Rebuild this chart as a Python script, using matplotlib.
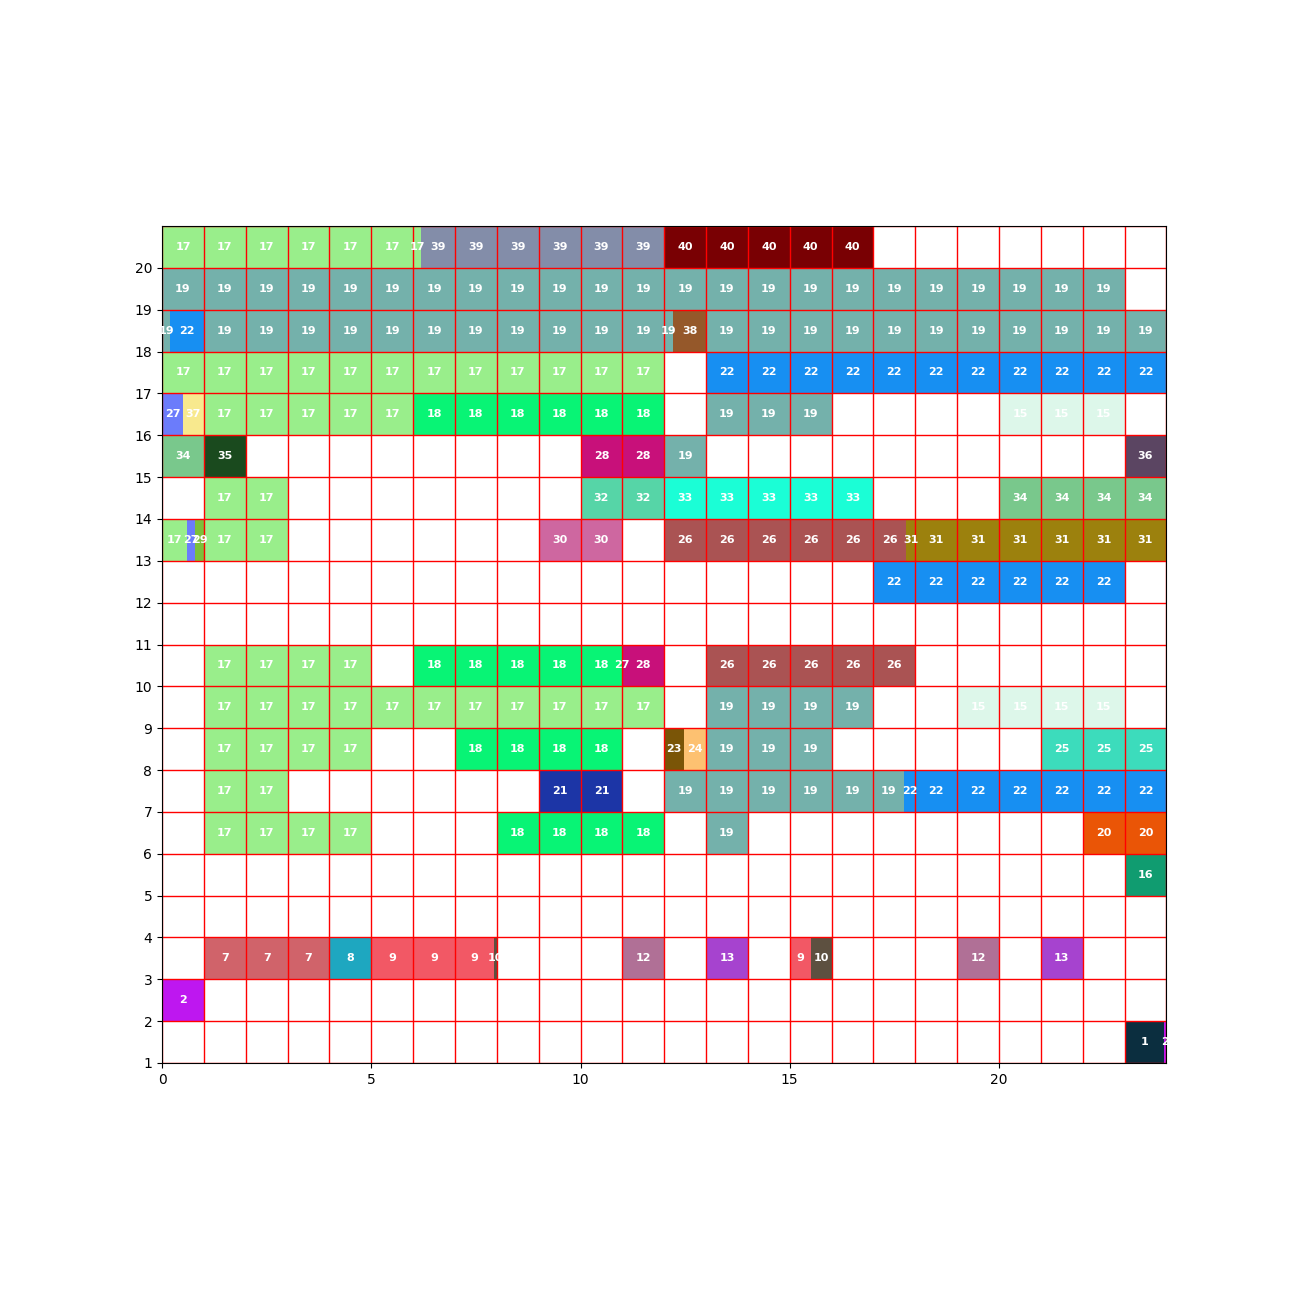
import numpy as np
import matplotlib.pyplot as plt
from matplotlib.patches import Rectangle

# runs of labelled cells per row: (x start, x end, label)
row_20 = [(0, 6.19, 17), (6.19, 12, 39), (12, 17, 40)]
row_19 = [(0, 23, 19)]
row_18 = [(0, 0.19, 19), (0.19, 1, 22), (1, 12.22, 19), (12.22, 13, 38), (13, 24, 19)]
row_17 = [(0, 12, 17), (13, 24, 22)]
row_16 = [(0, 0.5, 27), (0.5, 1, 37), (1, 6, 17), (6, 12, 18), (13, 16, 19), (20, 23, 15)]
row_15 = [(0, 1, 34), (1, 2, 35), (10, 12, 28), (12, 13, 19), (23, 24, 36)]
row_14 = [(1, 3, 17), (10, 12, 32), (12, 17, 33), (20, 24, 34)]
row_13 = [(0, 0.59, 17), (0.59, 0.79, 27), (0.79, 1, 29), (1, 3, 17), (9, 11, 30),
          (12, 17.78, 26), (17.78, 24, 31)]
row_12 = [(17, 23, 22)]
row_11 = []
row_10 = [(1, 5, 17), (6, 10.98, 18), (10.98, 11, 27), (11, 12, 28), (13, 18, 26)]
row_9 = [(1, 12, 17), (13, 17, 19), (19, 23, 15)]
row_8 = [(1, 5, 17), (7, 11, 18), (12, 12.47, 23), (12.47, 13, 24), (13, 16, 19), (21, 24, 25)]
row_7 = [(1, 3, 17), (9, 11, 21), (12, 17.74, 19), (17.74, 24, 22)]
row_6 = [(1, 5, 17), (8, 12, 18), (13, 14, 19), (22, 24, 20)]
row_5 = [(23, 24, 16)]
row_4 = []
row_3 = [(1, 4, 7), (4, 5, 8), (5, 7.94, 9), (7.94, 8, 10), (11, 12, 12), (13, 14, 13),
         (15, 15.5, 9), (15.5, 16, 10), (19, 20, 12), (21, 22, 13)]
row_2 = [(0, 1, 2)]
row_1 = [(23, 23.95, 1), (23.95, 24, 2)]

rows = {20: row_20, 19: row_19, 18: row_18, 17: row_17, 16: row_16, 15: row_15,
        14: row_14, 13: row_13, 12: row_12, 11: row_11, 10: row_10, 9: row_9,
        8: row_8, 7: row_7, 6: row_6, 5: row_5, 4: row_4, 3: row_3, 2: row_2, 1: row_1}

colors = {
    1: '#0b2e3f', 2: '#be17f0', 7: '#d0636a', 8: '#1ea7c0', 9: '#f25865',
    10: '#5d5040', 12: '#b07096', 13: '#a643cf', 15: '#ddf7ea', 16: '#109c70',
    17: '#99ee8b', 18: '#08f475', 19: '#74b1ab', 20: '#ea5506', 21: '#1c35a6',
    22: '#178ff2', 23: '#7a5507', 24: '#fdc171', 25: '#3cdcbc', 26: '#aa5353',
    27: '#6b7cfb', 28: '#c8107a', 29: '#7cc03a', 30: '#ce67a0', 31: '#9c810d',
    32: '#56d5a7', 33: '#1bfed6', 34: '#79c88c', 35: '#1a4a1e', 36: '#5b4562',
    37: '#f8e98e', 38: '#95582a', 39: '#838da9', 40: '#790003',
}

fig = plt.figure(figsize=(12.96, 12.96), dpi=100)
ax = fig.add_axes([0.125, 0.1798, 0.775, 0.6458])

for y, runs in rows.items():
    for x0, x1, lab in runs:
        # split every run at the integer cell borders
        edges = sorted(set([x0, x1] + [k for k in range(int(np.ceil(x0)), int(np.floor(x1)) + 1)]))
        edges = [e for e in edges if x0 <= e <= x1]
        for l, r in zip(edges[:-1], edges[1:]):
            ax.add_patch(Rectangle((l, y), r - l, 1, facecolor=colors[lab],
                                   edgecolor='none', zorder=1))
            ax.text((l + r) / 2, y + 0.5, str(lab), color='white', fontsize=8,
                    fontweight='bold', ha='center', va='center', zorder=4)

for k in range(0, 25):
    ax.axvline(k, color='red', lw=1, zorder=2)
for k in range(1, 22):
    ax.axhline(k, color='red', lw=1, zorder=2)

ax.set_xlim(0, 24)
ax.set_ylim(1, 21)
ax.set_aspect('equal')
ax.set_xticks([0, 5, 10, 15, 20])
ax.set_yticks(range(1, 21))

plt.savefig('out.png')
